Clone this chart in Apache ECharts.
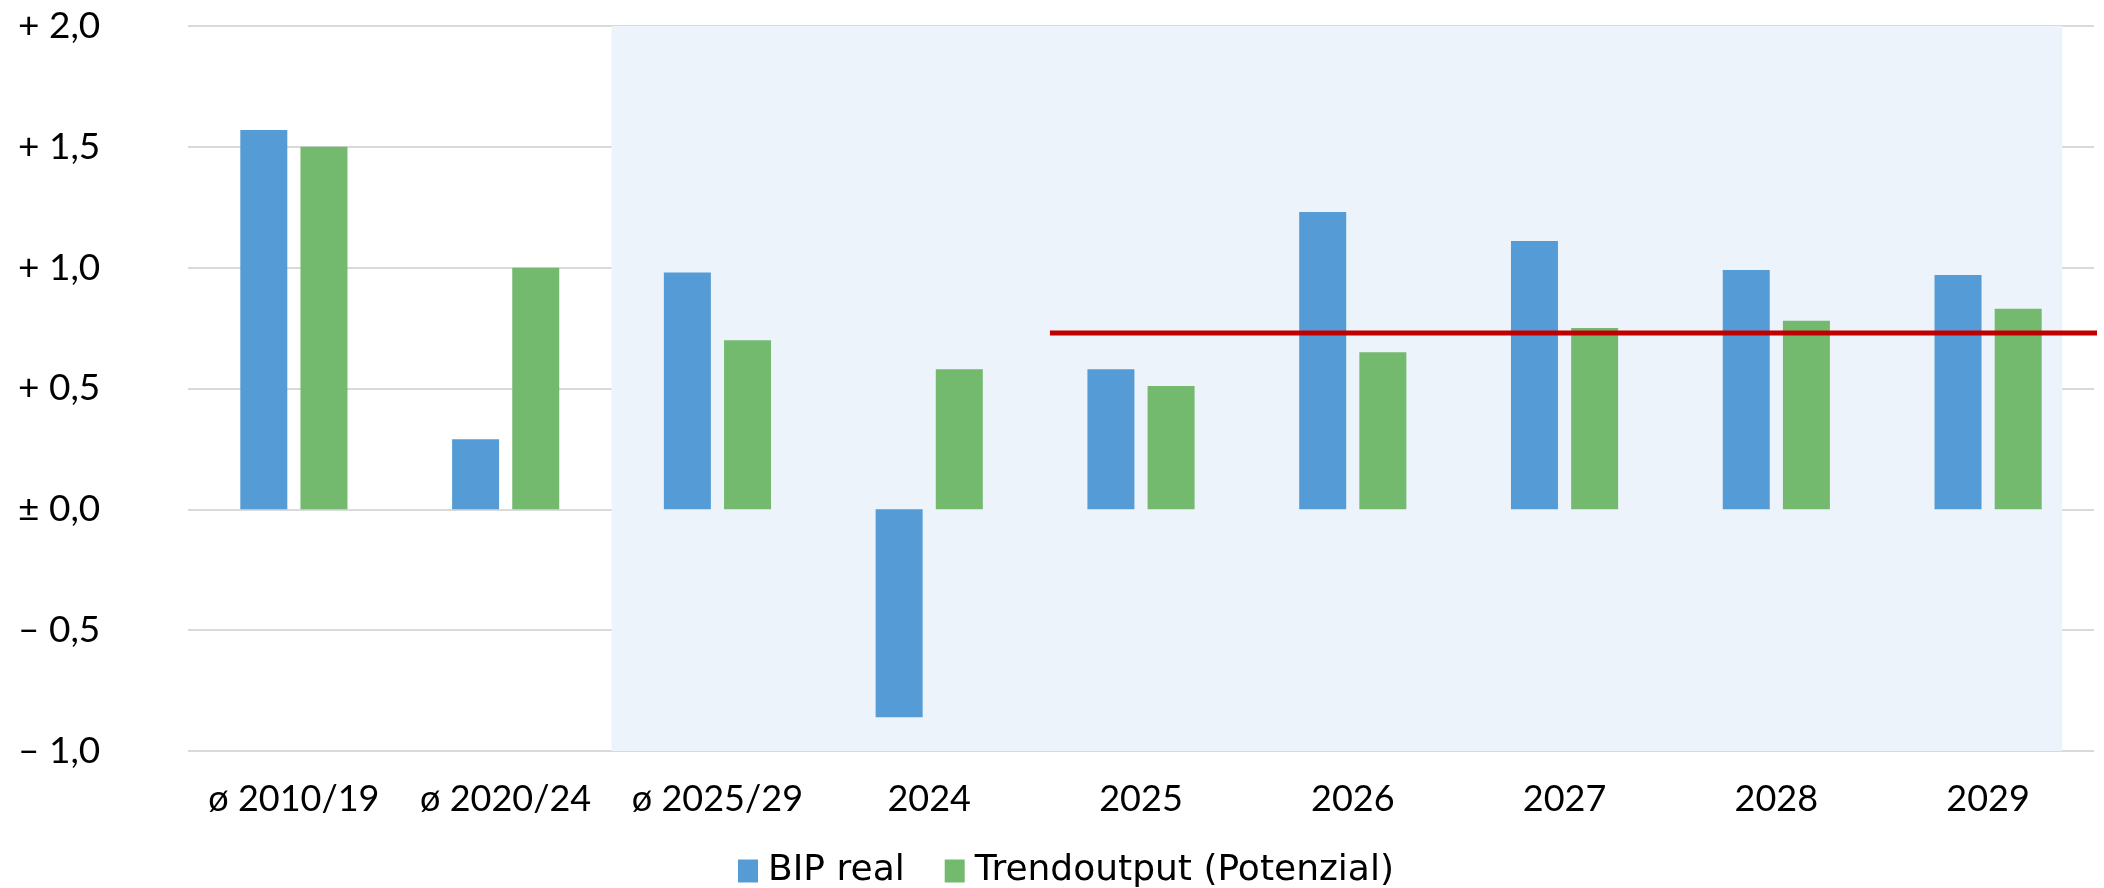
<!DOCTYPE html>
<html>
<head>
<meta charset="utf-8">
<script src="https://cdn.jsdelivr.net/npm/echarts@6/dist/echarts.min.js"></script>
<style>
  html, body { margin: 0; padding: 0; background: #ffffff; }
  #chart { width: 2104px; height: 888px; }
</style>
</head>
<body>
<div id="chart"></div>
<script>
// ---- data ----
const categories = ['ø 2010/19', 'ø 2020/24', 'ø 2025/29', '2024', '2025', '2026', '2027', '2028', '2029'];
const bipReal = [1.57, 0.29, 0.98, -0.86, 0.58, 1.23, 1.11, 0.99, 0.97];
const trendoutput = [1.50, 1.00, 0.70, 0.58, 0.51, 0.65, 0.75, 0.78, 0.83];
const seriesNames = ['BIP real', 'Trendoutput (Potenzial)'];
const yTickValues = [-1, -0.5, 0, 0.5, 1, 1.5, 2];
const yTickLabels = ['– 1,0', '– 0,5', '± 0,0', '+ 0,5', '+ 1,0', '+ 1,5', '+ 2,0'];
// reference line (value, start and end in category-index units)
const refLineValue = 0.73;
const refLineSpan = [4.07, 9.05];
// shaded forecast block (category-index units, value units)
const shadeX = [2, 8.85];
const shadeY = [2.012, -1.017];

const chart = echarts.init(document.getElementById('chart'), null, { renderer: 'canvas' });

const option = {
  animation: false,
  backgroundColor: '#ffffff',
  grid: { left: 188, right: 10, top: 26, bottom: 137, containLabel: false },
  legend: {
    data: seriesNames,
    left: 733,
    top: 848,
    itemWidth: 20,
    itemHeight: 23,
    itemGap: 40,
    icon: 'rect',
    textStyle: { fontFamily: 'DejaVu Sans', fontSize: 36, color: '#000000', padding: [0, 0, 0, 5] }
  },
  xAxis: [
    {
      type: 'category',
      data: categories,
      axisLine: { show: false },
      axisTick: { show: false },
      axisLabel: { fontFamily: 'Lato', fontSize: 36, color: '#000000', margin: 30, interval: 0 }
    },
    {
      type: 'value',
      min: 0,
      max: categories.length,
      show: false
    }
  ],
  yAxis: {
    type: 'value',
    min: -1,
    max: 2,
    interval: 0.5,
    axisLine: { show: false },
    axisTick: { show: false },
    splitLine: { show: true, lineStyle: { color: '#d9d9d9', width: 2 } },
    axisLabel: {
      fontFamily: 'Lato',
      fontSize: 37,
      color: '#000000',
      align: 'left',
      margin: 170,
      formatter: function (v) {
        for (let i = 0; i < yTickValues.length; i++) {
          if (Math.abs(yTickValues[i] - v) < 1e-9) return yTickLabels[i];
        }
        return '';
      }
    }
  },
  series: [
    {
      name: 'shade',
      type: 'line',
      xAxisIndex: 1,
      data: [],
      z: -1,
      silent: true,
      markArea: {
        silent: true,
        itemStyle: { color: '#ECF3FA' },
        data: [[{ coord: [shadeX[0], shadeY[0]] }, { coord: [shadeX[1], shadeY[1]] }]]
      }
    },
    {
      name: seriesNames[0],
      type: 'bar',
      data: bipReal,
      barWidth: 47,
      barGap: '28%',
      itemStyle: { color: '#559CD6' }
    },
    {
      name: seriesNames[1],
      type: 'bar',
      data: trendoutput,
      barWidth: 47,
      itemStyle: { color: '#73BA6F' }
    },
    {
      name: 'ref',
      type: 'line',
      xAxisIndex: 1,
      clip: false,
      symbol: 'none',
      silent: true,
      z: 5,
      lineStyle: { color: '#C00000', width: 5 },
      data: [[refLineSpan[0], refLineValue], [refLineSpan[1], refLineValue]]
    }
  ]
};

chart.setOption(option);
</script>
</body>
</html>
